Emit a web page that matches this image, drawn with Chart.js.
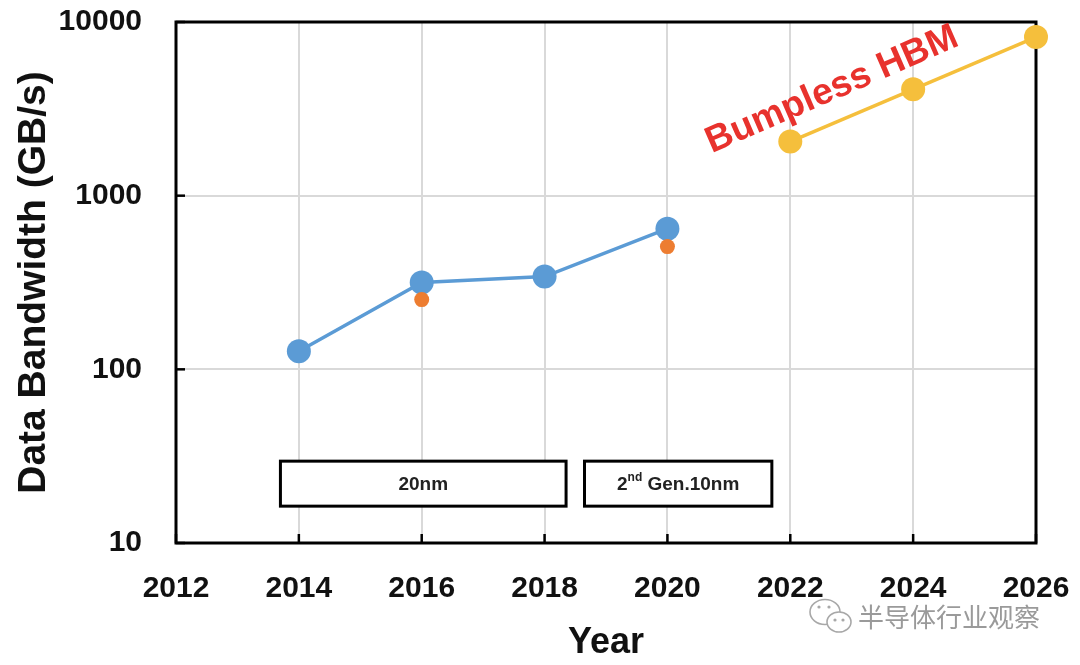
<!DOCTYPE html>
<html>
<head>
<meta charset="utf-8">
<script src="https://cdn.jsdelivr.net/npm/chart.js@4.4.1/dist/chart.umd.min.js"></script>
<style>
  html, body { margin: 0; padding: 0; background: #fff; }
  #wrap { width: 1080px; height: 665px; }
</style>
</head>
<body>
<div id="wrap"><canvas id="bw_chart" width="1080" height="665"></canvas></div>
<script>
// data
const gen_years = [2014, 2016, 2018, 2020];
const gen_bandwidth = [127, 316, 342, 645];
const alt_years = [2016, 2020];
const alt_bandwidth = [252, 509];
const bumpless_years = [2022, 2024, 2026];
const bumpless_bandwidth = [2048, 4096, 8192];
const y_tick_values = [10, 100, 1000, 10000];

// process node spans (years)
const node_labels = ["20nm", "2nd Gen.10nm"];
const node_start = [2013.7, 2018.65];
const node_end = [2018.35, 2021.7];

const bumpless_label = "Bumpless HBM";

function to_points(xs, ys) {
    return xs.map(function (x, i) { return {x: x, y: ys[i]}; });
}

const blue = "#5B9BD5";
const orange = "#ED7D31";
const yellow = "#F5BF3C";
const grid_col = "#d9d9d9";
const bold = "bold";
const font_family = "'Liberation Sans', Arial, sans-serif";

// frame, inward ticks, node boxes, labels
const deco_plugin = {
    id: "deco",
    beforeDatasetsDraw(chart) {
        const ctx = chart.ctx;
        const a = chart.chartArea;
        const xs = chart.scales.x;
        const ys = chart.scales.y;
        ctx.save();
        ctx.strokeStyle = "#000";
        ctx.lineWidth = 3;
        ctx.strokeRect(a.left, a.top, a.right - a.left, a.bottom - a.top);

        // inward tick marks
        ctx.lineWidth = 2.5;
        xs.ticks.forEach(function (t) {
            const px = xs.getPixelForValue(t.value);
            ctx.beginPath();
            ctx.moveTo(px, a.bottom);
            ctx.lineTo(px, a.bottom - 9);
            ctx.stroke();
        });
        ys.ticks.forEach(function (t) {
            const py = ys.getPixelForValue(t.value);
            ctx.beginPath();
            ctx.moveTo(a.left, py);
            ctx.lineTo(a.left + 9, py);
            ctx.stroke();
        });

        // process node boxes
        const box_top = ys.getPixelForValue(29.6);
        const box_bot = ys.getPixelForValue(16.3);
        ctx.lineWidth = 3;
        ctx.fillStyle = "#fff";
        for (let i = 0; i < node_labels.length; i++) {
            const x0 = xs.getPixelForValue(node_start[i]);
            const x1 = xs.getPixelForValue(node_end[i]);
            ctx.fillRect(x0, box_top, x1 - x0, box_bot - box_top);
            ctx.strokeRect(x0, box_top, x1 - x0, box_bot - box_top);
        }
        const cy = (box_top + box_bot) / 2;
        ctx.fillStyle = "#222";
        ctx.textBaseline = "middle";
        ctx.textAlign = "center";
        ctx.font = "bold 19px " + font_family;
        let cx = (xs.getPixelForValue(node_start[0]) + xs.getPixelForValue(node_end[0])) / 2;
        ctx.fillText(node_labels[0], cx, cy + 1);

        // "2nd Gen.10nm" with superscript
        cx = (xs.getPixelForValue(node_start[1]) + xs.getPixelForValue(node_end[1])) / 2;
        const main_font = "bold 19px " + font_family;
        const sup_font = "bold 12px " + font_family;
        ctx.font = main_font;
        const w1 = ctx.measureText("2").width;
        const w3 = ctx.measureText(" Gen.10nm").width;
        ctx.font = sup_font;
        const w2 = ctx.measureText("nd").width;
        let x = cx - (w1 + w2 + w3) / 2;
        ctx.textAlign = "left";
        ctx.font = main_font;
        ctx.fillText("2", x, cy + 1);
        x += w1;
        ctx.font = sup_font;
        ctx.fillText("nd", x, cy - 6);
        x += w2;
        ctx.font = main_font;
        ctx.fillText(" Gen.10nm", x, cy + 1);
        ctx.restore();
    },
    afterDraw(chart) {
        const ctx = chart.ctx;
        const xs = chart.scales.x;
        const ys = chart.scales.y;
        ctx.save();
        // rotated red label
        ctx.translate(xs.getPixelForValue(2022.68), ys.getPixelForValue(4070));
        ctx.rotate(-23.5 * Math.PI / 180);
        ctx.fillStyle = "#E8322D";
        ctx.font = "bold 37px " + font_family;
        ctx.textAlign = "center";
        ctx.textBaseline = "middle";
        ctx.fillText(bumpless_label, 0, 0);
        ctx.restore();

        // watermark
        ctx.save();
        ctx.strokeStyle = "#a8a8a8";
        ctx.fillStyle = "#fff";
        ctx.lineWidth = 1.6;
        ctx.beginPath();
        ctx.ellipse(825, 612, 15, 12.5, 0, 0, Math.PI * 2);
        ctx.stroke();
        ctx.beginPath();
        ctx.ellipse(839, 622, 12, 10, 0, 0, Math.PI * 2);
        ctx.fill();
        ctx.stroke();
        ctx.fillStyle = "#a8a8a8";
        [[819, 607], [829, 607], [835, 620], [843, 620]].forEach(function (p) {
            ctx.beginPath();
            ctx.arc(p[0], p[1], 1.6, 0, Math.PI * 2);
            ctx.fill();
        });
        ctx.fillStyle = "#9a9a9a";
        ctx.font = "26px 'Noto Sans CJK SC'";
        ctx.textAlign = "left";
        ctx.textBaseline = "middle";
        ctx.fillText("半导体行业观察", 858, 617);
        ctx.restore();
    }
};

const bw_chart = new Chart(document.getElementById("bw_chart"), {
    type: "line",
    data: {
        datasets: [
            {
                label: "alt",
                data: to_points(alt_years, alt_bandwidth),
                showLine: false,
                pointRadius: 7.5,
                pointBackgroundColor: orange,
                pointBorderWidth: 0,
                order: 0,
                clip: false
            },
            {
                label: "HBM",
                data: to_points(gen_years, gen_bandwidth),
                borderColor: blue,
                borderWidth: 3.5,
                pointRadius: 12,
                pointBackgroundColor: blue,
                pointBorderWidth: 0,
                order: 1,
                clip: false
            },
            {
                label: "Bumpless HBM",
                data: to_points(bumpless_years, bumpless_bandwidth),
                borderColor: yellow,
                borderWidth: 3.5,
                pointRadius: 12,
                pointBackgroundColor: yellow,
                pointBorderWidth: 0,
                order: 2,
                clip: false
            }
        ]
    },
    options: {
        responsive: false,
        animation: false,
        devicePixelRatio: 1,
        layout: {padding: {top: 22, right: 44, left: 0, bottom: 0}},
        plugins: {
            legend: {display: false},
            tooltip: {enabled: false}
        },
        scales: {
            x: {
                type: "linear",
                min: 2012,
                max: 2026,
                afterFit: function (s) {
                    s.height = 122;
                    s.paddingLeft = 0;
                    s.paddingRight = 0;
                },
                ticks: {
                    stepSize: 2,
                    padding: 28,
                    color: "#111",
                    font: {family: font_family, size: 30, weight: bold},
                    callback: function (v) { return String(v); }
                },
                grid: {color: grid_col, lineWidth: 2, drawTicks: false},
                border: {display: false},
                title: {
                    display: true,
                    text: "Year",
                    color: "#111",
                    font: {family: font_family, size: 36, weight: bold, lineHeight: 1.2},
                    padding: 0
                }
            },
            y: {
                type: "logarithmic",
                min: 10,
                max: 10000,
                afterFit: function (s) {
                    s.width = 176;
                    s.paddingTop = 0;
                    s.paddingBottom = 0;
                },
                afterBuildTicks: function (s) {
                    s.ticks = y_tick_values.map(function (v) { return {value: v}; });
                },
                ticks: {
                    padding: 34,
                    color: "#111",
                    font: {family: font_family, size: 30, weight: bold},
                    callback: function (v) { return String(v); }
                },
                grid: {color: grid_col, lineWidth: 2, drawTicks: false},
                border: {display: false},
                title: {
                    display: true,
                    text: "Data Bandwidth (GB/s)",
                    color: "#111",
                    font: {family: font_family, size: 39, weight: bold, lineHeight: 1},
                    padding: {top: 15, bottom: 0}
                }
            }
        }
    },
    plugins: [deco_plugin]
});
</script>
</body>
</html>
